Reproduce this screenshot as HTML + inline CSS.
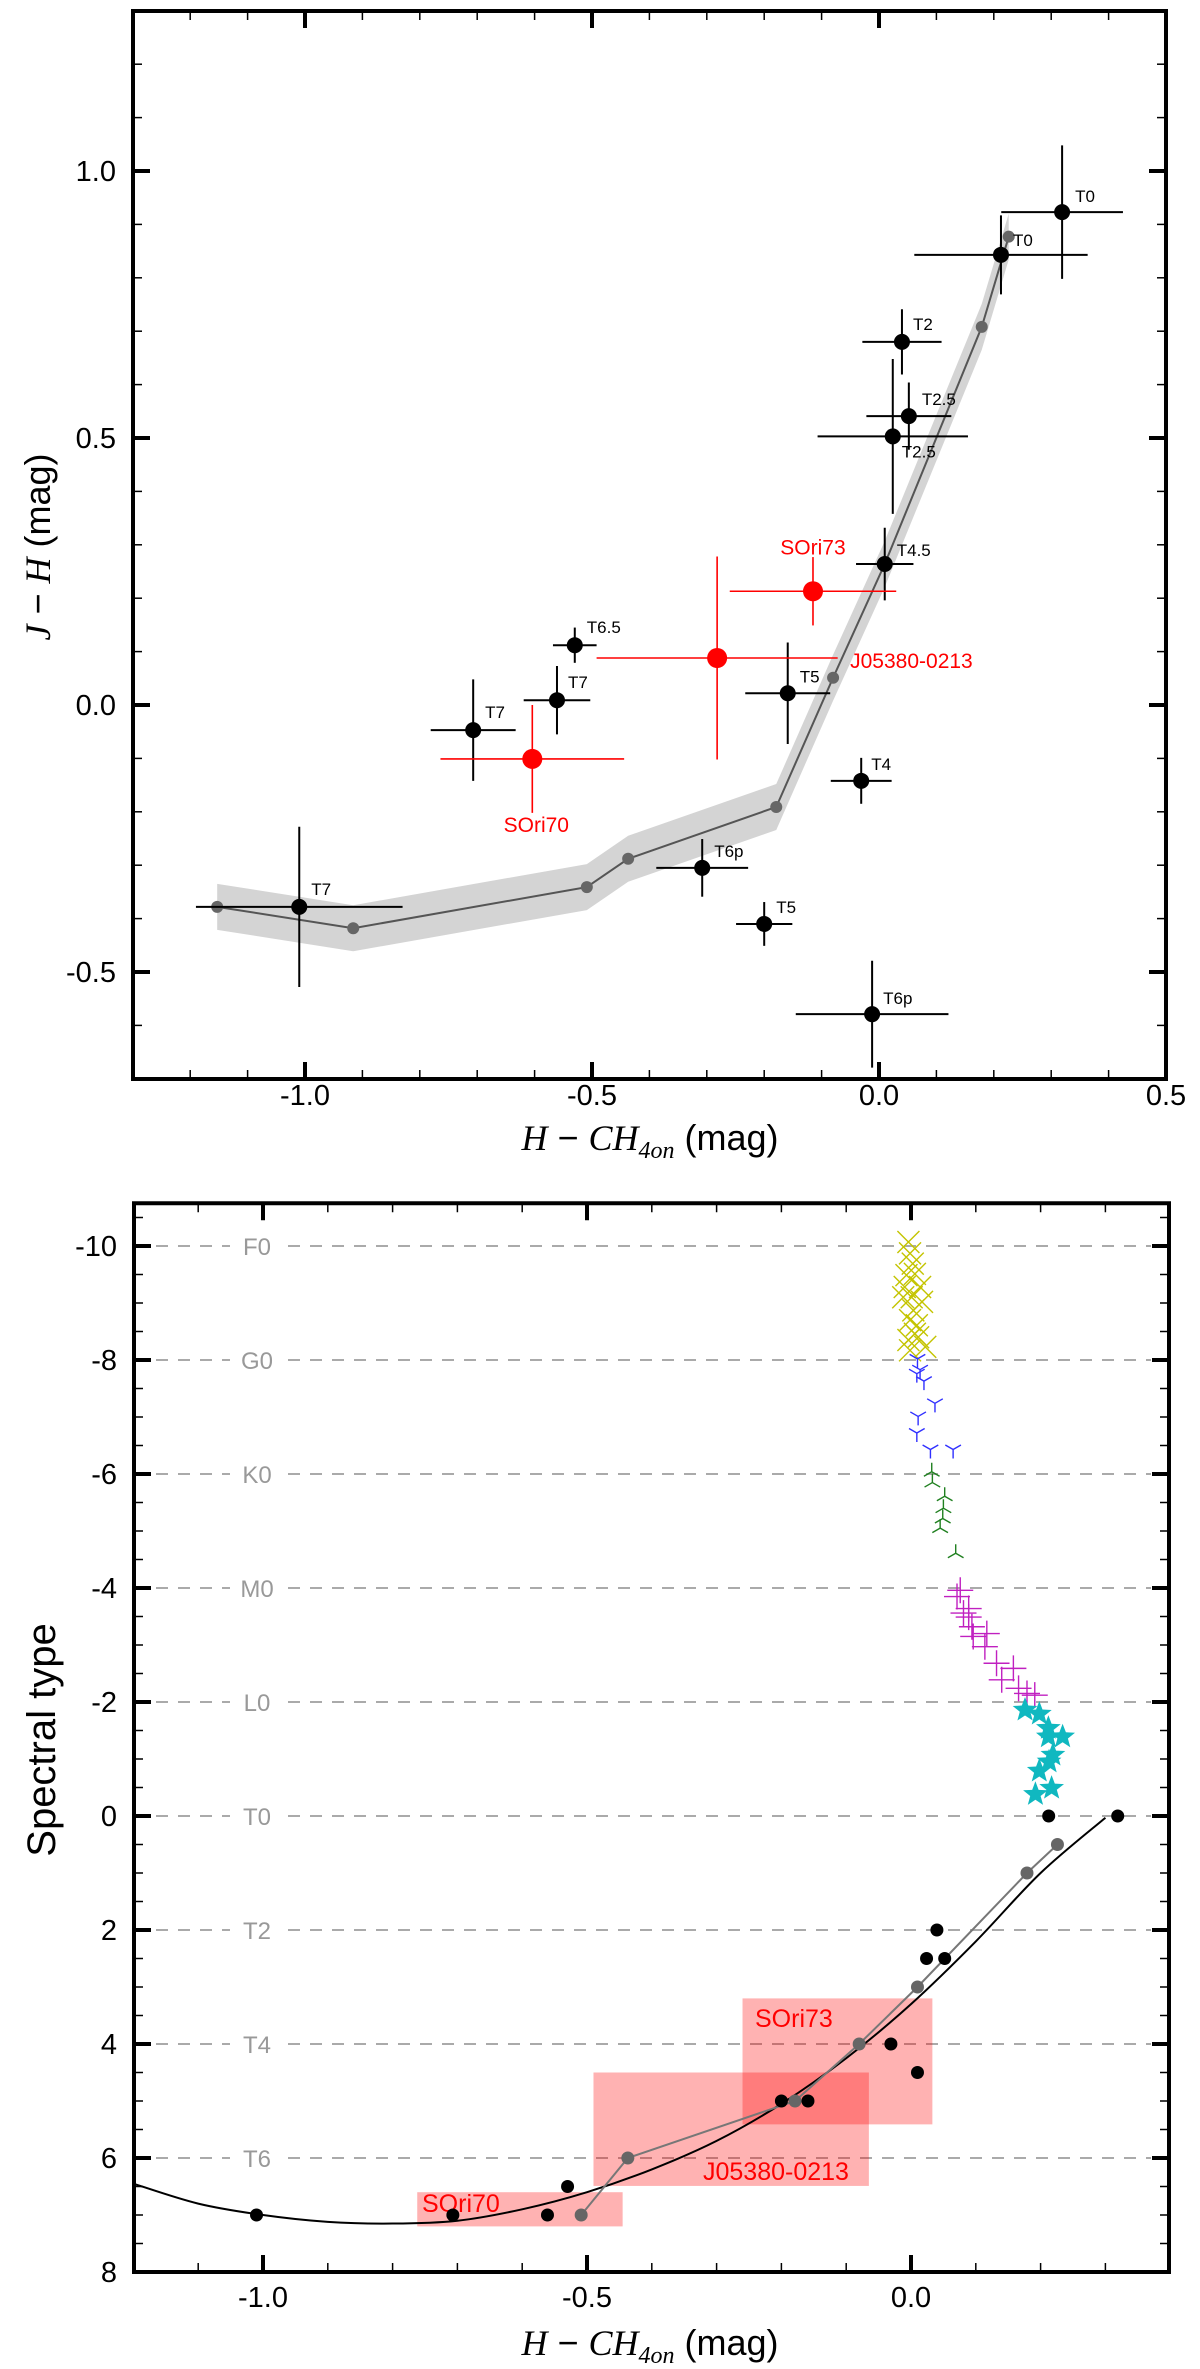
<!DOCTYPE html>
<html><head><meta charset="utf-8"><title>H-CH4on colour diagrams</title>
<style>html,body{margin:0;padding:0;background:#fff}svg{display:block}text{font-family:"Liberation Sans",sans-serif}</style>
</head><body>
<svg id="fig" xmlns="http://www.w3.org/2000/svg" width="1200" height="2369" viewBox="0 0 1200 2369">
<rect x="0" y="0" width="1200" height="2369" fill="#fff"/>
<g id="top"></g>
<g id="bot"></g>
<text x="650" y="1150" text-anchor="middle" font-size="36"><tspan font-family="Liberation Serif, serif" font-style="italic">H</tspan> − <tspan font-family="Liberation Serif, serif" font-style="italic">CH</tspan><tspan font-family="Liberation Serif, serif" font-style="italic" font-size="24" dy="8">4on</tspan><tspan dy="-8"> (mag)</tspan></text>
<text transform="translate(50,547) rotate(-90)" text-anchor="middle" font-size="36"><tspan font-family="Liberation Serif, serif" font-style="italic">J</tspan> − <tspan font-family="Liberation Serif, serif" font-style="italic">H</tspan> (mag)</text>
<text x="650" y="2355" text-anchor="middle" font-size="36"><tspan font-family="Liberation Serif, serif" font-style="italic">H</tspan> − <tspan font-family="Liberation Serif, serif" font-style="italic">CH</tspan><tspan font-family="Liberation Serif, serif" font-style="italic" font-size="24" dy="8">4on</tspan><tspan dy="-8"> (mag)</tspan></text>
<text transform="translate(55,1740) rotate(-90)" text-anchor="middle" font-size="40">Spectral type</text>
</svg>
<script>
// ---------- TOP PANEL DATA ----------
var topModelX = [-1.153,-0.916,-0.509,-0.437,-0.179,-0.080,0.010,0.179,0.226];
var topModelY = [-0.378,-0.418,-0.341,-0.288,-0.191,0.051,0.264,0.708,0.877];
var dwarfX    = [0.319,0.2125,0.040,0.052,0.024,0.010,-0.530,-0.561,-0.707,-1.010,-0.159,-0.031,-0.308,-0.200,-0.012];
var dwarfY    = [0.923,0.843,0.680,0.541,0.503,0.264,0.112,0.009,-0.047,-0.378,0.022,-0.142,-0.305,-0.410,-0.579];
var dwarfXerr = [0.106,0.151,0.069,0.074,0.131,0.050,0.038,0.058,0.074,0.180,0.074,0.053,0.080,0.049,0.133];
var dwarfYerr = [0.125,0.074,0.061,0.063,0.145,0.068,0.033,0.064,0.095,0.150,0.095,0.043,0.054,0.041,0.100];
var dwarfLabels = ["T0","T0","T2","T2.5","T2.5","T4.5","T6.5","T7","T7","T7","T5","T4","T6p","T5","T6p"];
var dwarfLabelDx = [13,12,11,13,9,12,12,11,12,12,12,10,12,12,11];
var dwarfLabelDy = [-10,-9,-12,-11,21,-8,-12,-12,-12,-12,-11,-11,-11,-11,-10];
var targetX    = [-0.115,-0.282,-0.604];
var targetY    = [0.213,0.088,-0.101];
var targetXerr = [0.145,0.210,0.160];
var targetYerr = [0.064,0.190,0.101];
var targetLabels = ["SOri73","J05380-0213","SOri70"];
var topXTicks = [-1.0,-0.5,0.0,0.5];
var topXTickLabels = ["-1.0","-0.5","0.0","0.5"];
var topYTicks = [1.0,0.5,0.0,-0.5];
var topYTickLabels = ["1.0","0.5","0.0","-0.5"];

// ---------- BOTTOM PANEL DATA ----------
var stdX = [0.319,0.2125,0.040,0.024,0.052,-0.031,0.010,-0.159,-0.200,-0.530,-0.561,-0.707,-1.010];
var stdSpT = [0,0,2,2.5,2.5,4,4.5,5,5,6.5,7,7,7];
var botModelX = [-0.509,-0.437,-0.179,-0.080,0.010,0.179,0.226];
var botModelSpT = [7,6,5,4,3,1,0.5];
var fitCurveX = [-1.2,-1.1,-1.0,-0.9,-0.8,-0.7,-0.6,-0.5,-0.4,-0.3,-0.2,-0.1,0.0,0.1,0.2,0.3];
var fitCurveSpT = [6.45,6.8,7.0,7.12,7.15,7.1,6.9,6.6,6.2,5.7,5.05,4.25,3.3,2.2,1.0,0.03];
var fStarX = [-0.004,-0.0015,0.0027,-0.007,0.006,-0.0097,0.014,0.001,-0.012,0.017,0.0036,-0.0015,0.009,0.006,-0.004,0.022,-0.0015,0.011];
var fStarSpT = [-10.07,-9.87,-9.69,-9.49,-9.51,-9.28,-9.28,-9.10,-9.10,-9.02,-8.87,-8.70,-8.61,-8.46,-8.35,-8.23,-8.17,-8.40];
var gStarX = [0.010,0.014,0.009,0.020,0.037,0.011,0.009,0.030,0.065];
var gStarSpT = [-8.02,-7.83,-7.76,-7.63,-7.24,-7.01,-6.72,-6.43,-6.43];
var kStarX = [0.032,0.033,0.052,0.050,0.049,0.045,0.069];
var kStarSpT = [-6.04,-5.85,-5.61,-5.40,-5.22,-5.05,-4.61];
var mStarX = [0.076,0.071,0.089,0.081,0.089,0.094,0.117,0.096,0.114,0.132,0.158,0.140,0.166,0.179,0.191];
var mStarSpT = [-3.96,-3.85,-3.64,-3.56,-3.49,-3.32,-3.20,-3.15,-2.97,-2.68,-2.59,-2.39,-2.24,-2.15,-2.12];
var lDwarfX = [0.176,0.198,0.212,0.234,0.212,0.219,0.213,0.198,0.217,0.192];
var lDwarfSpT = [-1.86,-1.79,-1.54,-1.39,-1.39,-1.07,-0.95,-0.79,-0.49,-0.38];
var boxX0 = [-0.260,-0.490,-0.762];
var boxX1 = [0.033,-0.065,-0.445];
var boxSpT0 = [3.2,4.5,6.6];
var boxSpT1 = [5.41,6.49,7.2];
var boxLabels = ["SOri73","J05380-0213","SOri70"];
var specLines = [-10,-8,-6,-4,-2,0,2,4,6];
var specLabels = ["F0","G0","K0","M0","L0","T0","T2","T4","T6"];
var botYTicks = [-10,-8,-6,-4,-2,0,2,4,6,8];
var botYTickLabels = ["-10","-8","-6","-4","-2","0","2","4","6","8"];
var botXTicks = [-1.0,-0.5,0.0];
var botXTickLabels = ["-1.0","-0.5","0.0"];

var NS = "http://www.w3.org/2000/svg";
function mk(parent, tag, attrs){
  var e = document.createElementNS(NS, tag);
  for (var k in attrs) e.setAttribute(k, attrs[k]);
  parent.appendChild(e);
  return e;
}
// axis functions
function tx(v){ return 879 + 574*v; }
function ty(v){ return 705 - 534*v; }
function bx(v){ return 911 + 648*v; }
function by(v){ return 1816 + 57*v; }

var T = document.getElementById('top');
var B = document.getElementById('bot');
var el, i;

// ================= TOP PANEL =================
var TL=133, TR=1166, TT=11, TB=1079;
// model band
var up=[], lo=[], ln=[];
for (i=0;i<topModelX.length;i++){
  up.push(tx(topModelX[i])+','+(ty(topModelY[i])-23));
  lo.unshift(tx(topModelX[i])+','+(ty(topModelY[i])+23));
  ln.push(tx(topModelX[i])+','+ty(topModelY[i]));
}
el = mk(T,'polygon',{points:up.concat(lo).join(' '),fill:'#d4d4d4',stroke:'none'});


el = mk(T,'polyline',{points:ln.join(' '),fill:'none',stroke:'#555',"stroke-width":2});


for (i=0;i<topModelX.length;i++){
  el = mk(T,'circle',{cx:tx(topModelX[i]),cy:ty(topModelY[i]),r:6,fill:'#666'});
  
  
}
// dwarfs
for (i=0;i<dwarfX.length;i++){
  var g = mk(T,'g',{});
  
  
  var cx=tx(dwarfX[i]), cy=ty(dwarfY[i]);
  mk(g,'line',{x1:tx(dwarfX[i]-dwarfXerr[i]),x2:tx(dwarfX[i]+dwarfXerr[i]),y1:cy,y2:cy,stroke:'#000',"stroke-width":2});
  mk(g,'line',{x1:cx,x2:cx,y1:ty(dwarfY[i]+dwarfYerr[i]),y2:ty(dwarfY[i]-dwarfYerr[i]),stroke:'#000',"stroke-width":2});
  mk(g,'circle',{cx:cx,cy:cy,r:8,fill:'#000'});
  var t = mk(g,'text',{x:cx+dwarfLabelDx[i],y:cy+dwarfLabelDy[i],"font-size":17,fill:'#000'});
  t.textContent = dwarfLabels[i];
}
// targets
var tgDx=[0,133,4], tgDy=[-37,10,73], tgAnchor=['middle','start','middle'];
for (i=0;i<targetX.length;i++){
  var g2 = mk(T,'g',{});
  
  
  var cx2=tx(targetX[i]), cy2=ty(targetY[i]);
  mk(g2,'line',{x1:tx(targetX[i]-targetXerr[i]),x2:tx(targetX[i]+targetXerr[i]),y1:cy2,y2:cy2,stroke:'#f00',"stroke-width":1.6});
  mk(g2,'line',{x1:cx2,x2:cx2,y1:ty(targetY[i]+targetYerr[i]),y2:ty(targetY[i]-targetYerr[i]),stroke:'#f00',"stroke-width":1.6});
  mk(g2,'circle',{cx:cx2,cy:cy2,r:10,fill:'#f00'});
  var t2 = mk(g2,'text',{x:cx2+tgDx[i],y:cy2+tgDy[i],"font-size":21,fill:'#f00',"text-anchor":tgAnchor[i]});
  t2.textContent = targetLabels[i];
}
// frame & ticks top
el = mk(T,'rect',{x:TL,y:TT,width:TR-TL,height:TB-TT,fill:'none',stroke:'#000',"stroke-width":4});


var tk = mk(T,'g',{stroke:'#000'});


for (i=-13;i<=5;i++){
  var v=i/10, X=tx(v), maj=(i%5===0);
  var L=maj?17:9, w=maj?4:1.5;
  mk(tk,'line',{x1:X,x2:X,y1:TB,y2:TB-L,"stroke-width":w});
  mk(tk,'line',{x1:X,x2:X,y1:TT,y2:TT+L,"stroke-width":w});
}
for (i=-7;i<=13;i++){
  var v2=i/10, Y=ty(v2), maj2=(i%5===0);
  var L2=maj2?17:9, w2=maj2?4:1.5;
  mk(tk,'line',{x1:TL,x2:TL+L2,y1:Y,y2:Y,"stroke-width":w2});
  mk(tk,'line',{x1:TR,x2:TR-L2,y1:Y,y2:Y,"stroke-width":w2});
}
for (i=0;i<topXTicks.length;i++){
  el = mk(T,'text',{x:tx(topXTicks[i]),y:1105,"font-size":29,"text-anchor":'middle'});
  el.textContent = topXTickLabels[i];
  
  
}
for (i=0;i<topYTicks.length;i++){
  el = mk(T,'text',{x:116,y:ty(topYTicks[i])+10,"font-size":29,"text-anchor":'end'});
  el.textContent = topYTickLabels[i];
  
  
}

// ================= BOTTOM PANEL =================
var BL=134, BR=1169, BT=by(-10.75), BB=by(8);
// dashed spectral lines
for (i=0;i<specLines.length;i++){
  var Yl = by(specLines[i]);
  el = mk(B,'line',{x1:BL+22,x2:BR-18,y1:Yl,y2:Yl,stroke:'#aaa',"stroke-width":2,"stroke-dasharray":'12 10'});
  
  
  el = mk(B,'rect',{x:230,y:Yl-14,width:55,height:28,fill:'#fff'});
  
  
  el = mk(B,'text',{x:257,y:Yl+9,"font-size":24,"text-anchor":'middle',fill:'#999'});
  el.textContent = specLabels[i];
  
  
}
// red boxes
for (i=0;i<boxX0.length;i++){
  el = mk(B,'rect',{x:bx(boxX0[i]),y:by(boxSpT0[i]),width:bx(boxX1[i])-bx(boxX0[i]),height:by(boxSpT1[i])-by(boxSpT0[i]),fill:'#ff0000',"fill-opacity":0.3});
  
  
}
var blx=[755,703,422], bly=[2027,2180,2212];
for (i=0;i<boxLabels.length;i++){
  el = mk(B,'text',{x:blx[i],y:bly[i],"font-size":25,fill:'#f00'});
  el.textContent = boxLabels[i];
  
  
}
// fit curve (Catmull-Rom smoothing)
var P=[]; for (i=0;i<fitCurveX.length;i++) P.push([bx(fitCurveX[i]),by(fitCurveSpT[i])]);
var d='M'+P[0][0]+','+P[0][1];
for (i=0;i<P.length-1;i++){
  var p0=P[Math.max(0,i-1)],p1=P[i],p2=P[i+1],p3=P[Math.min(P.length-1,i+2)];
  d+=' C'+(p1[0]+(p2[0]-p0[0])/6)+','+(p1[1]+(p2[1]-p0[1])/6)+' '+(p2[0]-(p3[0]-p1[0])/6)+','+(p2[1]-(p3[1]-p1[1])/6)+' '+p2[0]+','+p2[1];
}
el = mk(B,'path',{d:d,fill:'none',stroke:'#000',"stroke-width":2});


// model line
var ml=[]; for (i=0;i<botModelX.length;i++) ml.push(bx(botModelX[i])+','+by(botModelSpT[i]));
el = mk(B,'polyline',{points:ml.join(' '),fill:'none',stroke:'#777',"stroke-width":2});


for (i=0;i<botModelX.length;i++){
  el = mk(B,'circle',{cx:bx(botModelX[i]),cy:by(botModelSpT[i]),r:6.5,fill:'#666'});
  
  
}
for (i=0;i<stdX.length;i++){
  el = mk(B,'circle',{cx:bx(stdX[i]),cy:by(stdSpT[i]),r:6.5,fill:'#000'});
  
  
}
// F stars: x markers
for (i=0;i<fStarX.length;i++){
  var X1=bx(fStarX[i]), Y1=by(fStarSpT[i]), s=11;
  el = mk(B,'path',{d:'M'+(X1-s)+','+(Y1-s)+'L'+(X1+s)+','+(Y1+s)+'M'+(X1-s)+','+(Y1+s)+'L'+(X1+s)+','+(Y1-s),stroke:'#c4c400',"stroke-width":1.4,fill:'none'});
  
  
}
// G stars: tri_down
for (i=0;i<gStarX.length;i++){
  var X2=bx(gStarX[i]), Y2=by(gStarSpT[i]), s2=9;
  el = mk(B,'path',{d:'M'+X2+','+Y2+'L'+X2+','+(Y2+s2)+'M'+X2+','+Y2+'L'+(X2-s2*0.87)+','+(Y2-s2*0.5)+'M'+X2+','+Y2+'L'+(X2+s2*0.87)+','+(Y2-s2*0.5),stroke:'#3030ff',"stroke-width":1.4,fill:'none'});
  
  
}
// K stars: tri_up
for (i=0;i<kStarX.length;i++){
  var X3=bx(kStarX[i]), Y3=by(kStarSpT[i]), s3=9;
  el = mk(B,'path',{d:'M'+X3+','+Y3+'L'+X3+','+(Y3-s3)+'M'+X3+','+Y3+'L'+(X3-s3*0.87)+','+(Y3+s3*0.5)+'M'+X3+','+Y3+'L'+(X3+s3*0.87)+','+(Y3+s3*0.5),stroke:'#208020',"stroke-width":1.4,fill:'none'});
  
  
}
// M stars: plus
for (i=0;i<mStarX.length;i++){
  var X4=bx(mStarX[i]), Y4=by(mStarSpT[i]), s4=13;
  el = mk(B,'path',{d:'M'+(X4-s4)+','+Y4+'L'+(X4+s4)+','+Y4+'M'+X4+','+(Y4-s4)+'L'+X4+','+(Y4+s4),stroke:'#c020c0',"stroke-width":1.4,fill:'none'});
  
  
}
// L dwarfs: stars
for (i=0;i<lDwarfX.length;i++){
  var X5=bx(lDwarfX[i]), Y5=by(lDwarfSpT[i]), R=13, r=5.5, pts=[];
  for (var k=0;k<10;k++){ var a=-Math.PI/2+k*Math.PI/5, rr=(k%2===0)?R:r; pts.push((X5+rr*Math.cos(a)).toFixed(1)+','+(Y5+rr*Math.sin(a)).toFixed(1)); }
  el = mk(B,'polygon',{points:pts.join(' '),fill:'#10b8c0'});
  
  
}
// frame & ticks bottom
el = mk(B,'rect',{x:BL,y:BT,width:BR-BL,height:BB-BT,fill:'none',stroke:'#000',"stroke-width":4});


var tk2 = mk(B,'g',{stroke:'#000'});


for (i=-12;i<=4;i++){
  var vb=i/10, Xb=bx(vb), mb=(i%5===0);
  var Lb=mb?17:9, wb=mb?4:1.5;
  mk(tk2,'line',{x1:Xb,x2:Xb,y1:BB,y2:BB-Lb,"stroke-width":wb});
  mk(tk2,'line',{x1:Xb,x2:Xb,y1:BT,y2:BT+Lb,"stroke-width":wb});
}
for (i=-21;i<=16;i++){
  var vy=i/2, Yb=by(vy), my=(i%4===0);
  var Ly=my?17:9, wy=my?4:1.5;
  mk(tk2,'line',{x1:BL,x2:BL+Ly,y1:Yb,y2:Yb,"stroke-width":wy});
  mk(tk2,'line',{x1:BR,x2:BR-Ly,y1:Yb,y2:Yb,"stroke-width":wy});
}
for (i=0;i<botXTicks.length;i++){
  el = mk(B,'text',{x:bx(botXTicks[i]),y:2307,"font-size":29,"text-anchor":'middle'});
  el.textContent = botXTickLabels[i];
  
  
}
for (i=0;i<botYTicks.length;i++){
  el = mk(B,'text',{x:117,y:by(botYTicks[i])+10,"font-size":29,"text-anchor":'end'});
  el.textContent = botYTickLabels[i];
  
  
}
</script>
</body></html>
